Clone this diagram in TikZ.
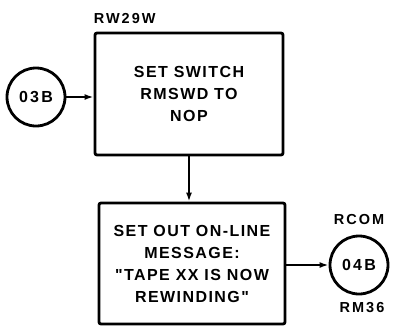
\documentclass[tikz,border=0pt]{standalone}
\usepackage{fontspec}
\usetikzlibrary{arrows.meta, positioning}
\newfontfamily\chartfont{Liberation Sans}[LetterSpace=9]
\newfontfamily\widefont{Liberation Sans}[LetterSpace=14]
\newcommand{\boxfont}{\chartfont\bfseries\fontsize{16bp}{22bp}\selectfont}
\newcommand{\circfont}{\widefont\bfseries\fontsize{16bp}{18bp}\selectfont}
\newcommand{\tagfont}{\widefont\bfseries\fontsize{14.5bp}{16bp}\selectfont}
\tikzset{
  procbox/.style  = {rectangle, rounded corners=2pt, draw, line width=2.8bp, align=center, font=\boxfont, inner sep=0pt},
  offpage/.style  = {circle, draw, line width=2.8bp, minimum size=58bp, inner sep=0pt, font=\circfont},
  tagtext/.style  = {font=\tagfont, inner sep=0pt},
  flow/.style     = {-{Latex[length=9bp,width=6bp]}, line width=1.8bp},
}

\begin{document}
\begin{tikzpicture}[x=1bp, y=-1bp]
  % page frame in pixel units of the reference
  \useasboundingbox (0,0) rectangle (393,327);

  \node[procbox, minimum width=188bp, minimum height=122bp] (rmswd) at (189,94)
    {SET SWITCH\\RMSWD TO\\NOP};
  \node[procbox, minimum width=186bp, minimum height=121bp] (online) at (192,263.5)
    {SET OUT ON-LINE\\MESSAGE:\\"TAPE XX IS NOW\\REWINDING"};

  \node[offpage] (in03b) at (36,97) {03B};
  \node[offpage] (out04b) at (359,265) {04B};

  \node[tagtext, anchor=south west] (rw29w) at ([yshift=8bp]rmswd.north west) {RW29W};
  \node[tagtext, above=10bp of out04b] (rcom) {RCOM};
  \node[tagtext, below=7bp of out04b, xshift=3bp] (rm36) {RM36};

  \draw[flow] (in03b) -- (rmswd.west |- in03b);
  \draw[flow] (rmswd.south) -- (rmswd.south |- online.north);
  \draw[flow] (online.east |- out04b) -- (out04b);
\end{tikzpicture}
\end{document}
